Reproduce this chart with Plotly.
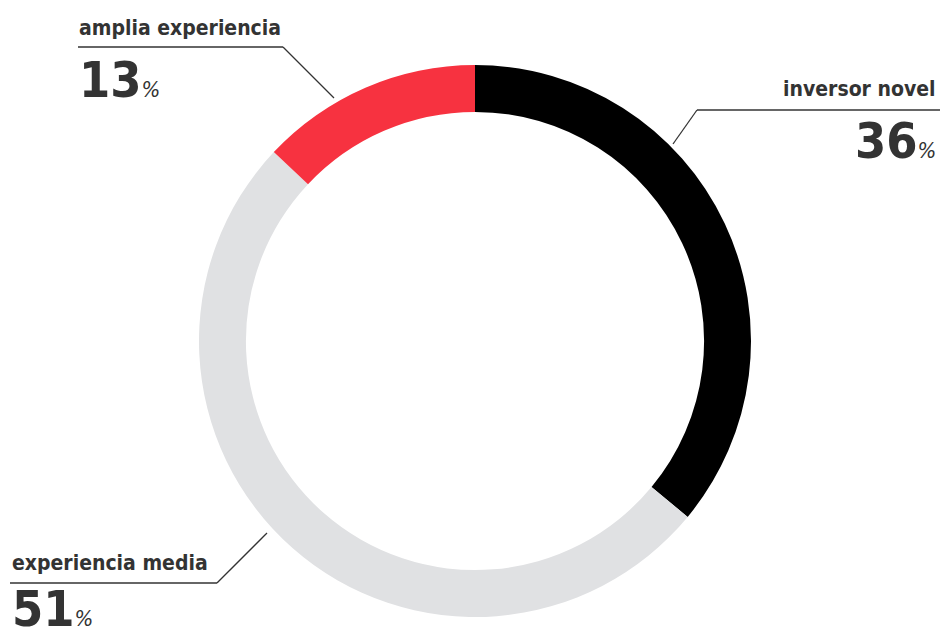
import plotly.graph_objects as go

labels = ["inversor novel", "experiencia media", "amplia experiencia"]
values = [36, 51, 13]
colors = ["#000000", "#e0e1e3", "#f73240"]

OFF = 8  # page body margin
W, H = 948 - OFF, 639 - OFF
TXT = "#333333"
LBL_FONT = "'DejaVu Sans Condensed', 'Liberation Sans Narrow', 'Liberation Sans', sans-serif"


def px(x):
    return (x - OFF) / W


def py(y):
    return 1 - (y - OFF) / H


fig = go.Figure(go.Pie(
    labels=labels, values=values, sort=False, direction="clockwise", rotation=0,
    hole=0.83, marker=dict(colors=colors, line=dict(width=0)),
    textinfo="none", hoverinfo="label+percent", showlegend=False,
    domain=dict(x=[px(475 - 276), px(475 + 276)], y=[py(341 + 276), py(341 - 276)]),
))

placements = {
    "amplia experiencia": dict(x=78, anchor="left", ly=28, ny=80),
    "inversor novel": dict(x=937, anchor="right", ly=89, ny=141),
    "experiencia media": dict(x=11, anchor="left", ly=563, ny=609),
}
leader = {
    "amplia experiencia": [(78, 47), (283, 47), (334, 98)],
    "inversor novel": [(947, 110), (697, 110), (673, 144)],
    "experiencia media": [(10, 583), (217, 583), (267, 533)],
}

annotations = []
shapes = []
for lab, val in zip(labels, values):
    p = placements[lab]
    annotations.append(dict(
        x=px(p["x"]), y=py(p["ly"]), xref="paper", yref="paper",
        xanchor=p["anchor"], yanchor="middle", showarrow=False, borderpad=0,
        text="<b>%s</b>" % lab, font=dict(family=LBL_FONT, size=21, color=TXT)))
    annotations.append(dict(
        x=px(p["x"]), y=py(p["ny"]), xref="paper", yref="paper",
        xanchor=p["anchor"], yanchor="middle", showarrow=False, borderpad=0,
        text="<b>%d</b><i><span style='font-size:22px;font-weight:normal'>%%</span></i>" % val,
        font=dict(family=LBL_FONT, size=50, color=TXT)))
    pts = leader[lab]
    for (x0, y0), (x1, y1) in zip(pts[:-1], pts[1:]):
        shapes.append(dict(type="line", xref="paper", yref="paper",
                           x0=px(x0), y0=py(y0), x1=px(x1), y1=py(y1),
                           line=dict(color="#333333", width=1.3)))

fig.update_layout(
    width=W, height=H, margin=dict(l=0, r=0, t=0, b=0),
    paper_bgcolor="white", plot_bgcolor="white",
    annotations=annotations, shapes=shapes,
)

fig.write_html("out.html")
